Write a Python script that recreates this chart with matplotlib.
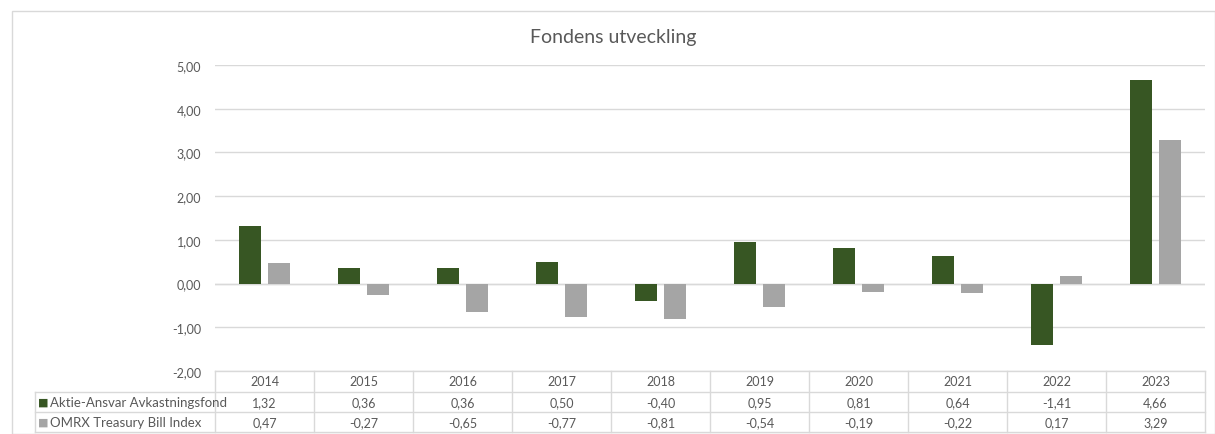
import matplotlib.pyplot as plt
from matplotlib.patches import Rectangle
from matplotlib.lines import Line2D
import numpy as np

years = ["2014", "2015", "2016", "2017", "2018", "2019", "2020", "2021", "2022", "2023"]
fund = [1.32, 0.36, 0.36, 0.50, -0.40, 0.95, 0.81, 0.64, -1.41, 4.66]
index = [0.47, -0.27, -0.65, -0.77, -0.81, -0.54, -0.19, -0.22, 0.17, 3.29]
fund_name = "Aktie-Ansvar Avkastningsfond"
index_name = "OMRX Treasury Bill Index"
yticks = [-2, -1, 0, 1, 2, 3, 4, 5]

plt.rcParams['font.family'] = ['Lato', 'DejaVu Sans']
green = '#375623'
gray = '#A5A5A5'
txt = '#595959'
grid = '#D9D9D9'

W, H = 1215, 435
fig = plt.figure(figsize=(W / 100, H / 100), dpi=100)

def fx(x):
    return x / W

def fy(y):
    return 1 - y / H

# outer chart border
fig.patches.append(Rectangle((fx(12), 0), 1 - fx(12), fy(12), transform=fig.transFigure,
                             fill=False, edgecolor=grid, lw=1))

left, right, top, bottom = 215, 1205, 66, 372
ax = fig.add_axes([fx(left), fy(bottom), fx(right) - fx(left), fy(top) - fy(bottom)])

x = np.arange(len(years))
w = 0.22
ax.bar(x - 0.145, fund, w, color=green, zorder=3)
ax.bar(x + 0.145, index, w, color=gray, zorder=3)

ax.set_xlim(-0.5, len(years) - 0.5)
ax.set_ylim(-2, 5)
ax.set_yticks(yticks)
ax.set_yticklabels([f"{v:.2f}".replace(".", ",") for v in yticks], color=txt, fontsize=9)
ax.tick_params(axis='y', length=0, pad=10)
ax.set_xticks([])
ax.grid(axis='y', color=grid, lw=1, zorder=0)
ax.axhline(0, color=grid, lw=1, zorder=2)
for s in ax.spines.values():
    s.set_visible(False)

fig.text(0.505, fy(38), "Fondens utveckling", ha='center', va='center', fontsize=14, color=txt)

# data table
row_y = [372, 393, 413, 433]
for i, yy in enumerate(row_y):
    x0 = left if i == 0 else 35
    fig.add_artist(Line2D([fx(x0), fx(right)], [fy(yy), fy(yy)], color=grid, lw=1))
n = len(years)
for k in range(n + 1):
    xx = left + (right - left) * k / n
    fig.add_artist(Line2D([fx(xx), fx(xx)], [fy(372), fy(433)], color=grid, lw=1))
fig.add_artist(Line2D([fx(35), fx(35)], [fy(393), fy(433)], color=grid, lw=1))

def fmt(v):
    return f"{v:.2f}".replace(".", ",")

for k in range(n):
    cx = fx(left + (right - left) * (k + 0.5) / n)
    fig.text(cx, fy(382.5), years[k], ha='center', va='center', fontsize=9, color=txt)
    fig.text(cx, fy(403), fmt(fund[k]), ha='center', va='center', fontsize=9, color=txt)
    fig.text(cx, fy(423), fmt(index[k]), ha='center', va='center', fontsize=9, color=txt)

for yy, name, col in [(403, fund_name, green), (423, index_name, gray)]:
    fig.text(fx(38), fy(yy), "■", ha='left', va='center', fontsize=8, color=col,
             family=['DejaVu Sans'])
    fig.text(fx(50), fy(yy), name, ha='left', va='center', fontsize=9.5, color=txt)

fig.savefig("out.png", dpi=100)
